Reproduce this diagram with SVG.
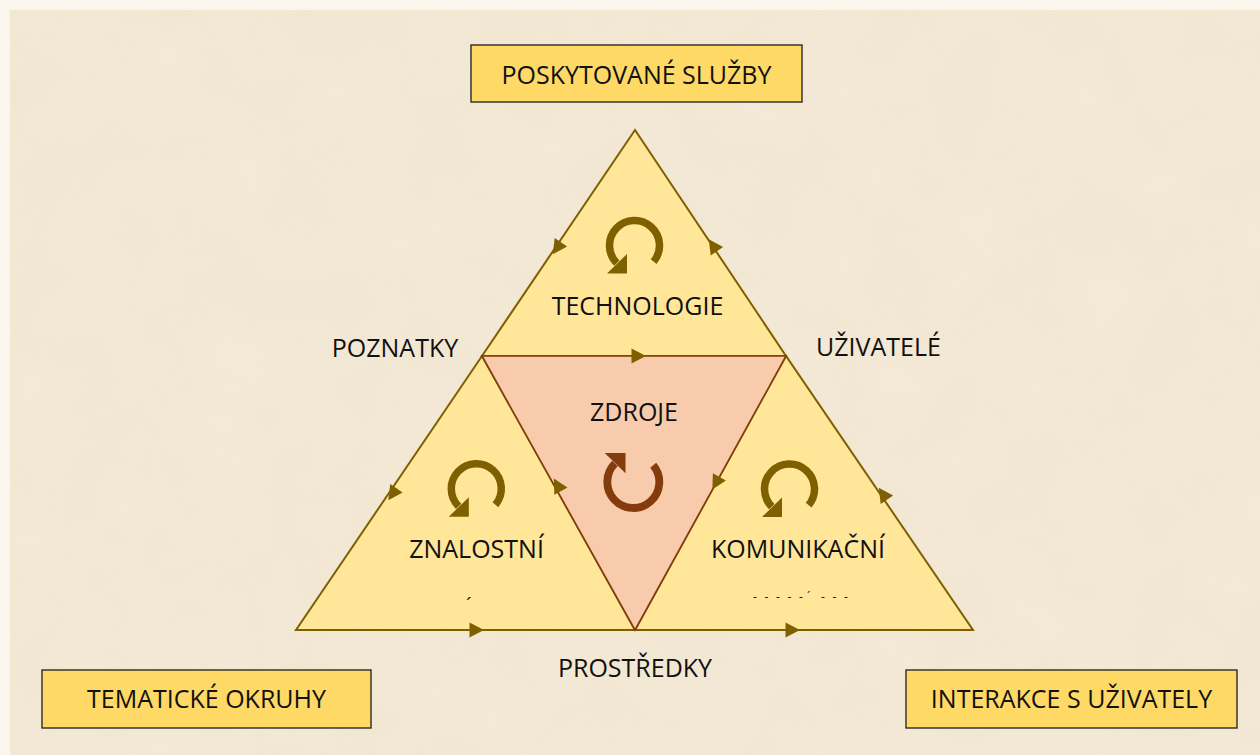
<svg xmlns="http://www.w3.org/2000/svg" xmlns:xlink="http://www.w3.org/1999/xlink" width="1260" height="755" viewBox="0 0 1260 755">
<style>
  .lbl{font-family:"Open Sans","Noto Sans","Liberation Sans",sans-serif;font-size:25px;fill:#111;text-anchor:middle}
  .box{fill:#ffd966;stroke:#2b2b2b;stroke-width:1.4}
  .tri{fill:#ffe699;stroke:#7f6000;stroke-width:2;stroke-linejoin:miter}
  .inner{fill:#f8cbad;stroke:#843c0c;stroke-width:1.6}
  .ah{fill:#7f6000}
  .tiny{font-family:"Open Sans","Liberation Sans",sans-serif;font-size:12px;fill:#111}
  .acc{font-family:"Open Sans","Liberation Sans",sans-serif;font-size:20px;fill:#111}
</style>
<defs>
  <path id="ah" d="M7.5,0 L-7,-7.5 L-7,7.5 Z"/>
  <g id="circ">
    <path d="M19.15,16.07 A25,25 0 1 0 -17.68,17.68" fill="none" stroke-width="7.5"/>
    <path d="M-7.5,8.5 L-7.5,28 L-27.5,28 Z" stroke="none"/>
  </g>
  <filter id="paper" x="0" y="0" width="100%" height="100%">
    <feTurbulence type="fractalNoise" baseFrequency="0.015" numOctaves="4" seed="3"/>
    <feColorMatrix type="matrix" values="0 0 0 0 0.78  0 0 0 0 0.66  0 0 0 0 0.45  0 0 0 0.35 -0.08"/>
  </filter>
</defs>

<rect x="0" y="0" width="1260" height="755" fill="#faf6ee"/>
<rect x="10" y="10" width="1250" height="745" fill="#f3e9d6"/>
<rect x="10" y="10" width="1250" height="745" filter="url(#paper)" opacity="0.6"/>

<g id="node-technologie">
  <polygon class="tri" points="635,130 482,356 786,356"/>
  <use xlink:href="#circ" href="#circ" transform="translate(634.5,245.5)" fill="#7f6000" stroke="#7f6000"/>
  <text class="lbl" x="637.5" y="315">TECHNOLOGIE</text>
</g>
<g id="node-znalostni">
  <polygon class="tri" points="482,356 296,630 635,630"/>
  <use xlink:href="#circ" href="#circ" transform="translate(476.3,488.7)" fill="#7f6000" stroke="#7f6000"/>
  <text class="lbl" x="476.5" y="558">ZNALOSTNÍ</text>
  <text class="acc" x="466" y="612">´</text>
</g>
<g id="node-komunikacni">
  <polygon class="tri" points="786,356 635,630 973,630"/>
  <use xlink:href="#circ" href="#circ" transform="translate(789.5,489)" fill="#7f6000" stroke="#7f6000"/>
  <text class="lbl" x="798" y="558">KOMUNIKAČNÍ</text>
  <text class="tiny" x="753 764.5 776 787.5 799 807 821 832.5 844" y="601">-----´---</text>
</g>
<g id="node-zdroje">
  <polygon class="inner" points="482,356 786,356 635,630"/>
  <use xlink:href="#circ" href="#circ" transform="translate(633.3,482) scale(1.04,-1.04)" fill="#843c0c" stroke="#843c0c"/>
  <text class="lbl" x="634" y="420.5">ZDROJE</text>
</g>

<g id="connectors" class="ah">
  <use xlink:href="#ah" href="#ah" transform="translate(476.5,630)"/>
  <use xlink:href="#ah" href="#ah" transform="translate(792.5,630)"/>
  <use xlink:href="#ah" href="#ah" transform="translate(638.5,356)"/>
  <use xlink:href="#ah" href="#ah" transform="translate(557,248) rotate(124)"/>
  <use xlink:href="#ah" href="#ah" transform="translate(392.5,494) rotate(124)"/>
  <use xlink:href="#ah" href="#ah" transform="translate(713,245.5) rotate(-124)"/>
  <use xlink:href="#ah" href="#ah" transform="translate(883,494) rotate(-124)"/>
  <use xlink:href="#ah" href="#ah" transform="translate(557.5,485) rotate(-119)"/>
  <use xlink:href="#ah" href="#ah" transform="translate(716,483) rotate(119)"/>
</g>

<g id="label-poznatky"><text class="lbl" x="395" y="357">POZNATKY</text></g>
<g id="label-uzivatele"><text class="lbl" x="878.5" y="356">UŽIVATELÉ</text></g>
<g id="label-prostredky"><text class="lbl" x="635" y="677">PROSTŘEDKY</text></g>

<g id="node-poskytovane-sluzby">
  <rect class="box" x="471" y="45" width="331" height="57"/>
  <text class="lbl" x="636.5" y="84">POSKYTOVANÉ SLUŽBY</text>
</g>
<g id="node-tematicke-okruhy">
  <rect class="box" x="42" y="670" width="329" height="58"/>
  <text class="lbl" x="206.5" y="708">TEMATICKÉ OKRUHY</text>
</g>
<g id="node-interakce">
  <rect class="box" x="906" y="670" width="331" height="58"/>
  <text class="lbl" x="1071.5" y="708">INTERAKCE S UŽIVATELY</text>
</g>
</svg>
